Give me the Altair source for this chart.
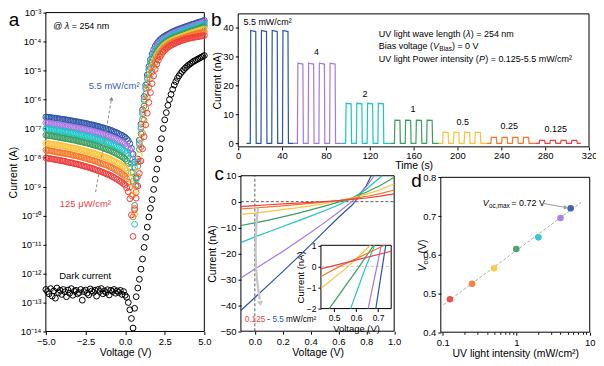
import altair as alt
import pandas as pd

W, H = 590, 356
FONT = "Liberation Sans"

SERIES = ["Dark", "5.5", "4", "2", "1", "0.5", "0.25", "0.125"]
COLORS = ["#000000", "#2b55a6", "#a577e3", "#1cc4c4", "#3a9e5f", "#fbc33a", "#f5772a", "#ee3e3e"]
CS = alt.Scale(domain=SERIES, range=COLORS)

# ---------------- panel a : log10 |I| (A) vs V ----------------
V_A = [-5.0, -4.9, -4.8, -4.7, -4.6, -4.5, -4.4, -4.3, -4.2, -4.1,
       -4.0, -3.9, -3.8, -3.7, -3.6, -3.5, -3.4, -3.3, -3.2, -3.1,
       -3.0, -2.9, -2.8, -2.7, -2.6, -2.5, -2.4, -2.3, -2.2, -2.1,
       -2.0, -1.9, -1.8, -1.7, -1.6, -1.5, -1.4, -1.3, -1.2, -1.1,
       -1.0, -0.9, -0.8, -0.7, -0.6, -0.5, -0.4, -0.3, -0.2, -0.1,
       0.0,
       0.1, 0.2, 0.3, 0.4, 0.5, 0.6, 0.7, 0.8, 0.9, 1.0,
       1.1, 1.2, 1.3, 1.4, 1.5, 1.6, 1.7, 1.8, 1.9, 2.0,
       2.1, 2.2, 2.3, 2.4, 2.5, 2.6, 2.7, 2.8, 2.9, 3.0,
       3.1, 3.2, 3.3, 3.4, 3.5, 3.6, 3.7, 3.8, 3.9, 4.0,
       4.1, 4.2, 4.3, 4.4, 4.5, 4.6, 4.7, 4.8, 4.9, 5.0]

LOG_DARK = [-12.55, -12.62, -12.70, -12.52, -12.78, -12.60, -12.85, -12.50, -12.66, -12.58,
            -12.72, -12.55, -12.63, -12.80, -12.57, -12.68, -12.52, -12.75, -12.61, -12.58,
            -12.70, -12.66, -12.55, -12.92, -12.62, -12.57, -12.68, -12.74, -12.53, -12.60,
            -12.65, -12.58, -12.78, -12.55, -12.62, -12.52, -12.70, -12.60, -12.66, -12.56,
            -12.74, -12.58, -12.62, -12.55, -12.68, -12.60, -12.65, -12.58, -12.72, -12.62,
            -12.75,
            -12.82, -13.00, -13.25, -13.55, -13.88, -13.20, -12.80, -12.50, -12.20, -11.85,
            -11.50, -11.10, -10.75, -10.40, -10.05, -9.75, -9.45, -9.10, -8.75, -8.40,
            -8.05, -7.70, -7.35, -7.00, -6.70, -6.45, -6.20, -6.00, -5.82, -5.65,
            -5.50, -5.38, -5.27, -5.18, -5.10, -5.03, -4.97, -4.91, -4.86, -4.81,
            -4.77, -4.73, -4.69, -4.66, -4.63, -4.60, -4.57, -4.54, -4.51, -4.48]

LOG_55 = [-6.60, -6.61, -6.61, -6.62, -6.63, -6.64, -6.64, -6.65, -6.66, -6.67,
          -6.68, -6.68, -6.69, -6.70, -6.71, -6.72, -6.73, -6.74, -6.75, -6.76,
          -6.77, -6.78, -6.79, -6.80, -6.81, -6.82, -6.83, -6.85, -6.86, -6.87,
          -6.88, -6.90, -6.91, -6.92, -6.94, -6.96, -6.97, -6.99, -7.01, -7.02,
          -7.04, -7.06, -7.08, -7.11, -7.13, -7.15, -7.18, -7.21, -7.23, -7.27,
          -7.30,
          -7.35, -7.42, -7.52, -7.68, -7.88, -8.15, -8.70, -8.05, -7.40, -6.85,
          -6.35, -5.90, -5.50, -5.15, -4.86, -4.62, -4.43, -4.28, -4.16, -4.07,
          -4.00, -3.94, -3.89, -3.85, -3.81, -3.78, -3.75, -3.72, -3.69, -3.66,
          -3.64, -3.61, -3.59, -3.57, -3.55, -3.53, -3.51, -3.49, -3.47, -3.45,
          -3.43, -3.41, -3.40, -3.38, -3.36, -3.34, -3.33, -3.31, -3.29, -3.27]

LOG_4 = [-6.80, -6.81, -6.81, -6.82, -6.83, -6.84, -6.85, -6.85, -6.86, -6.87,
         -6.88, -6.89, -6.90, -6.91, -6.92, -6.93, -6.94, -6.95, -6.96, -6.97,
         -6.98, -6.99, -7.00, -7.01, -7.02, -7.03, -7.05, -7.06, -7.07, -7.08,
         -7.10, -7.11, -7.13, -7.14, -7.16, -7.18, -7.19, -7.21, -7.23, -7.25,
         -7.27, -7.29, -7.31, -7.33, -7.36, -7.38, -7.41, -7.44, -7.47, -7.50,
         -7.54,
         -7.59, -7.65, -7.74, -7.87, -8.06, -8.35, -9.00, -8.15, -7.50, -6.94,
         -6.44, -5.99, -5.59, -5.24, -4.95, -4.71, -4.52, -4.37, -4.25, -4.15,
         -4.08, -4.02, -3.97, -3.93, -3.89, -3.86, -3.83, -3.79, -3.76, -3.73,
         -3.71, -3.68, -3.66, -3.64, -3.62, -3.60, -3.58, -3.56, -3.54, -3.52,
         -3.50, -3.48, -3.46, -3.44, -3.42, -3.40, -3.39, -3.37, -3.35, -3.33]

LOG_2 = [-7.01, -7.02, -7.03, -7.03, -7.04, -7.05, -7.06, -7.07, -7.08, -7.08,
         -7.09, -7.10, -7.11, -7.12, -7.13, -7.14, -7.15, -7.16, -7.17, -7.18,
         -7.20, -7.21, -7.22, -7.23, -7.24, -7.26, -7.27, -7.28, -7.30, -7.31,
         -7.33, -7.34, -7.36, -7.37, -7.39, -7.41, -7.42, -7.44, -7.46, -7.48,
         -7.50, -7.53, -7.55, -7.57, -7.60, -7.63, -7.65, -7.68, -7.72, -7.75,
         -7.79,
         -7.85, -7.93, -8.04, -8.20, -8.50, -10.30, -8.75, -8.15, -7.55, -7.00,
         -6.50, -6.04, -5.63, -5.28, -4.98, -4.74, -4.57, -4.45, -4.35, -4.25,
         -4.18, -4.11, -4.06, -4.01, -3.97, -3.93, -3.89, -3.86, -3.83, -3.80,
         -3.78, -3.75, -3.73, -3.71, -3.69, -3.67, -3.65, -3.63, -3.61, -3.59,
         -3.57, -3.55, -3.53, -3.51, -3.49, -3.47, -3.45, -3.44, -3.42, -3.40]

LOG_1 = [-7.23, -7.24, -7.25, -7.25, -7.26, -7.27, -7.28, -7.29, -7.30, -7.31,
         -7.32, -7.33, -7.34, -7.35, -7.36, -7.37, -7.38, -7.39, -7.40, -7.41,
         -7.43, -7.44, -7.45, -7.46, -7.48, -7.49, -7.50, -7.52, -7.53, -7.55,
         -7.56, -7.58, -7.59, -7.61, -7.63, -7.65, -7.67, -7.69, -7.71, -7.73,
         -7.75, -7.77, -7.80, -7.82, -7.85, -7.88, -7.91, -7.94, -7.97, -8.01,
         -8.05,
         -8.12, -8.21, -8.34, -8.52, -8.82, -9.65, -8.95, -8.30, -7.72, -7.18,
         -6.68, -6.22, -5.81, -5.45, -5.14, -4.90, -4.72, -4.58, -4.46, -4.35,
         -4.27, -4.20, -4.14, -4.09, -4.04, -4.00, -3.96, -3.93, -3.90, -3.88,
         -3.85, -3.83, -3.81, -3.79, -3.77, -3.75, -3.73, -3.71, -3.69, -3.67,
         -3.65, -3.63, -3.61, -3.59, -3.58, -3.56, -3.54, -3.52, -3.50, -3.48]

LOG_05 = [-7.50, -7.51, -7.52, -7.53, -7.54, -7.54, -7.55, -7.56, -7.57, -7.58,
          -7.59, -7.60, -7.61, -7.62, -7.64, -7.65, -7.66, -7.67, -7.68, -7.69,
          -7.70, -7.72, -7.73, -7.74, -7.76, -7.77, -7.79, -7.80, -7.82, -7.83,
          -7.85, -7.86, -7.88, -7.90, -7.92, -7.94, -7.96, -7.98, -8.00, -8.02,
          -8.04, -8.07, -8.09, -8.12, -8.15, -8.18, -8.21, -8.24, -8.28, -8.32,
          -8.36,
          -8.44, -8.54, -8.68, -8.90, -9.30, -9.95, -9.10, -8.48, -7.92, -7.38,
          -6.88, -6.42, -6.00, -5.63, -5.31, -5.05, -4.85, -4.70, -4.58, -4.47,
          -4.38, -4.30, -4.23, -4.17, -4.12, -4.08, -4.04, -4.01, -3.98, -3.95,
          -3.93, -3.90, -3.88, -3.86, -3.84, -3.82, -3.80, -3.78, -3.76, -3.74,
          -3.72, -3.70, -3.69, -3.67, -3.65, -3.63, -3.62, -3.60, -3.59, -3.57]

LOG_025 = [-7.74, -7.75, -7.76, -7.77, -7.78, -7.79, -7.80, -7.81, -7.82, -7.83,
           -7.84, -7.85, -7.86, -7.87, -7.88, -7.89, -7.90, -7.92, -7.93, -7.94,
           -7.95, -7.97, -7.98, -7.99, -8.01, -8.02, -8.04, -8.06, -8.07, -8.09,
           -8.10, -8.12, -8.14, -8.16, -8.18, -8.20, -8.22, -8.24, -8.26, -8.28,
           -8.31, -8.33, -8.36, -8.39, -8.42, -8.45, -8.48, -8.52, -8.56, -8.60,
           -8.64,
           -8.73, -8.85, -9.02, -9.32, -10.05, -9.75, -9.20, -8.66, -8.14, -7.64,
           -7.16, -6.71, -6.29, -5.91, -5.57, -5.28, -5.05, -4.87, -4.72, -4.60,
           -4.50, -4.41, -4.33, -4.27, -4.21, -4.17, -4.12, -4.08, -4.05, -4.02,
           -3.99, -3.97, -3.95, -3.93, -3.91, -3.89, -3.87, -3.85, -3.83, -3.81,
           -3.80, -3.78, -3.77, -3.75, -3.74, -3.72, -3.71, -3.70, -3.68, -3.67]

LOG_0125 = [-8.01, -8.02, -8.03, -8.04, -8.05, -8.06, -8.07, -8.08, -8.09, -8.10,
            -8.11, -8.12, -8.13, -8.15, -8.16, -8.17, -8.18, -8.19, -8.21, -8.22,
            -8.23, -8.25, -8.26, -8.28, -8.29, -8.31, -8.32, -8.34, -8.36, -8.37,
            -8.39, -8.41, -8.43, -8.45, -8.47, -8.49, -8.51, -8.53, -8.56, -8.58,
            -8.60, -8.63, -8.66, -8.69, -8.72, -8.75, -8.79, -8.82, -8.86, -8.91,
            -8.95,
            -9.05, -9.18, -9.42, -9.98, -10.72, -9.80, -9.40, -8.98, -8.55, -8.12,
            -7.70, -7.28, -6.87, -6.47, -6.10, -5.76, -5.45, -5.18, -4.96, -4.78,
            -4.64, -4.53, -4.44, -4.36, -4.30, -4.25, -4.20, -4.16, -4.13, -4.10,
            -4.07, -4.05, -4.02, -4.00, -3.98, -3.96, -3.94, -3.92, -3.91, -3.89,
            -3.88, -3.87, -3.86, -3.85, -3.84, -3.83, -3.82, -3.81, -3.80, -3.79]

LOG_A = {"Dark": LOG_DARK, "5.5": LOG_55, "4": LOG_4, "2": LOG_2, "1": LOG_1,
         "0.5": LOG_05, "0.25": LOG_025, "0.125": LOG_0125}

# ---------------- panel b : transient photocurrent ----------------
B_T = {
    "5.5": [7.5, 11.0, 11.4, 16.0, 16.4, 20.8, 21.2, 25.8, 26.2, 30.6, 31.0, 35.6, 36.0, 40.4, 40.8, 45.4, 45.8, 50.5],
    "4": [50.5, 54.0, 54.4, 59.0, 59.4, 63.8, 64.2, 68.8, 69.2, 73.6, 74.0, 78.6, 79.0, 83.4, 83.8, 88.4, 88.8, 94.5],
    "2": [94.5, 98.0, 98.4, 103.0, 103.4, 107.8, 108.2, 112.8, 113.2, 117.6, 118.0, 122.6, 123.0, 127.4, 127.8, 132.4, 132.8, 139.0],
    "1": [139.0, 142.5, 142.9, 147.5, 147.9, 152.3, 152.7, 157.3, 157.7, 162.1, 162.5, 167.1, 167.5, 171.9, 172.3, 176.9, 177.3, 183.0],
    "0.5": [183.0, 186.5, 186.9, 191.5, 191.9, 196.3, 196.7, 201.3, 201.7, 206.1, 206.5, 211.1, 211.5, 215.9, 216.3, 220.9, 221.3, 227.0],
    "0.25": [227.0, 230.5, 230.9, 235.5, 235.9, 240.3, 240.7, 245.3, 245.7, 250.1, 250.5, 255.1, 255.5, 259.9, 260.3, 264.9, 265.3, 271.0],
    "0.125": [271.0, 274.5, 274.9, 279.5, 279.9, 284.3, 284.7, 289.3, 289.7, 294.1, 294.5, 299.1, 299.5, 303.9, 304.3, 308.9, 309.3, 312.5],
}
B_I = {
    "5.5": [0, 0, 38.9, 38.5, 0, 0, 38.9, 38.5, 0, 0, 38.9, 38.5, 0, 0, 38.9, 38.5, 0, 0],
    "4": [0, 0, 27.6, 27.3, 0, 0, 27.6, 27.3, 0, 0, 27.6, 27.3, 0, 0, 27.6, 27.3, 0, 0],
    "2": [0, 0, 13.8, 13.6, 0, 0, 13.8, 13.6, 0, 0, 13.8, 13.6, 0, 0, 13.8, 13.6, 0, 0],
    "1": [0, 0, 8.0, 7.9, 0, 0, 8.0, 7.9, 0, 0, 8.0, 7.9, 0, 0, 8.0, 7.9, 0, 0],
    "0.5": [0, 0, 3.85, 3.75, 0, 0, 3.85, 3.75, 0, 0, 3.85, 3.75, 0, 0, 3.85, 3.75, 0, 0],
    "0.25": [0, 0, 2.1, 2.05, 0, 0, 2.1, 2.05, 0, 0, 2.1, 2.05, 0, 0, 2.1, 2.05, 0, 0],
    "0.125": [0, 0, 1.05, 1.0, 0, 0, 1.05, 1.0, 0, 0, 1.05, 1.0, 0, 0, 1.05, 1.0, 0, 0],
}
B_LABELS = ["4", "2", "1", "0.5", "0.25", "0.125"]
B_LABEL_T = [71.5, 115.7, 159.4, 204.8, 247.3, 289.7]
B_LABEL_I = [31.4, 17.1, 11.8, 7.4, 6.0, 4.9]

# ---------------- panel c : linear I-V near zero bias ----------------
C_V = {
    "0.125": [-0.1, 0.0, 0.1, 0.2, 0.3, 0.4, 0.5, 0.6, 0.7, 0.8, 0.9, 1.0],
    "0.25": [-0.1, 0.0, 0.1, 0.2, 0.3, 0.4, 0.5, 0.6, 0.7, 0.8, 0.9, 1.0],
    "0.5": [-0.1, 0.0, 0.1, 0.2, 0.3, 0.4, 0.5, 0.6, 0.7, 0.8, 0.9, 1.0],
    "1": [-0.1, 0.0, 0.1, 0.2, 0.3, 0.4, 0.5, 0.6, 0.7, 0.8, 0.9, 1.0],
    "2": [-0.1, 0.0, 0.1, 0.2, 0.3, 0.4, 0.5, 0.6, 0.7, 0.8, 0.9, 0.912],
    "4": [-0.1, 0.0, 0.1, 0.2, 0.3, 0.4, 0.5, 0.6, 0.7, 0.8, 0.857],
    "5.5": [-0.1, 0.0, 0.1, 0.2, 0.3, 0.4, 0.5, 0.6, 0.7, 0.75, 0.8, 0.835],
}
C_I = {
    "0.125": [-1.9, -1.55, -1.2, -0.88, -0.57, -0.26, 0.05, 0.4, 0.85, 1.4, 2.1, 3.0],
    "0.25": [-2.8, -2.45, -2.0, -1.6, -1.15, -0.68, -0.15, 0.45, 1.15, 2.0, 3.1, 4.5],
    "0.5": [-4.9, -4.4, -3.75, -3.1, -2.4, -1.65, -0.8, 0.35, 1.5, 2.9, 4.6, 6.8],
    "1": [-9.2, -8.2, -7.1, -5.9, -4.6, -3.2, -1.7, -0.2, 1.5, 3.6, 6.2, 9.4],
    "2": [-15.8, -13.6, -11.6, -9.6, -7.6, -5.6, -3.5, -1.3, 1.4, 4.8, 9.4, 10.0],
    "4": [-29.5, -26.0, -22.6, -19.2, -15.6, -11.9, -8.1, -4.1, 0.2, 5.8, 10.0],
    "5.5": [-42.0, -37.0, -32.0, -27.0, -21.9, -16.7, -11.4, -6.1, -1.2, 2.2, 6.2, 10.0],
}
# inset (zoom near Voc)
IN_V = {
    "0.125": [0.44, 0.76],
    "0.25": [0.44, 0.525, 0.73],
    "0.5": [0.44, 0.565, 0.665],
    "1": [0.478, 0.615, 0.68],
    "2": [0.575, 0.645, 0.685],
    "4": [0.655, 0.695, 0.715],
    "5.5": [0.69, 0.72, 0.735],
}
IN_I = {
    "0.125": [-0.12, 0.72],
    "0.25": [-0.48, 0.0, 1.0],
    "0.5": [-1.05, 0.0, 1.0],
    "1": [-2.0, 0.0, 1.0],
    "2": [-2.0, 0.0, 1.0],
    "4": [-2.0, 0.0, 1.0],
    "5.5": [-2.0, 0.0, 1.0],
}
ARROW_C_V = [0.022, 0.008, 0.004, 0.012, 0.036]
ARROW_C_I = [-2.5, -10.0, -20.0, -30.0, -37.8]

# ---------------- panel d : Voc vs intensity ----------------
D_P = [0.125, 0.25, 0.5, 1, 2, 4, 5.5]
D_VOC = [0.485, 0.525, 0.565, 0.615, 0.645, 0.695, 0.72]
D_NAMES = ["0.125", "0.25", "0.5", "1", "2", "4", "5.5"]
FIT_P = [0.102, 7.6]
FIT_V = [0.471, 0.735]

# ---------------- scales (pixel ranges inside one canvas) ----------------
def lin(d, r):
    return alt.Scale(type="linear", domain=d, range=r, nice=False, zero=False)


def lg(d, r):
    return alt.Scale(type="log", domain=d, range=r, nice=False)


XA = lin([-5, 5], [38, 197]);            YA = lg([1e-14, 1e-3], [324, 4])
XB = lin([0, 320], [231, 583]);          YB = lin([-1.2, 44.6], [138.7, 5.3])
XC = lin([-0.1, 1.0], [233.7, 387.5]);   YC = lin([-50, 10], [323.7, 167.7])
XI = lin([0.44, 0.76], [314, 384.5]);    YI = lin([-2, 1], [301, 237.5])
XD = lg([0.094, 10], [434.3, 583.7]);    YD = lin([0.4, 0.8], [324.7, 169.3])


def ax(orient, offset, values, title, fmt=None, **kw):
    d = dict(orient=orient, offset=offset, values=values, title=title)
    if fmt:
        d["format"] = fmt
    d.update(kw)
    return alt.Axis(**d)


def label(xs, ys, x, y, text, **kw):
    df = pd.DataFrame({"x": [x], "y": [y], "t": [text]})
    props = dict(font=FONT, fontSize=9, align="left", baseline="middle", color="black")
    props.update(kw)
    return alt.Chart(df).mark_text(**props).encode(
        x=alt.X("x:Q", scale=xs, axis=None),
        y=alt.Y("y:Q", scale=ys, axis=None),
        text="t:N")


def frame(xs, ys, xd, yd, fill=None):
    df = pd.DataFrame({"x0": [xd[0]], "x1": [xd[1]], "y0": [yd[0]], "y1": [yd[1]]})
    props = dict(stroke="black", strokeWidth=1)
    if fill:
        props["fill"] = fill
    else:
        props["fillOpacity"] = 0
    return alt.Chart(df).mark_rect(**props).encode(
        x=alt.X("x0:Q", scale=xs, axis=None), x2="x1:Q",
        y=alt.Y("y0:Q", scale=ys, axis=None), y2="y1:Q")


def segment(xs, ys, xv, yv, **kw):
    df = pd.DataFrame({"x": xv, "y": yv, "o": list(range(len(xv)))})
    return alt.Chart(df).mark_line(**kw).encode(
        x=alt.X("x:Q", scale=xs, axis=None),
        y=alt.Y("y:Q", scale=ys, axis=None),
        order="o:Q")


def head(xs, ys, x, y, shape, angle, color, size=24):
    df = pd.DataFrame({"x": [x], "y": [y]})
    return alt.Chart(df).mark_point(shape=shape, angle=angle, filled=True, size=size,
                                    color=color, opacity=1).encode(
        x=alt.X("x:Q", scale=xs, axis=None), y=alt.Y("y:Q", scale=ys, axis=None))


layers = []

# ======== panel a ========
rows = []
for s in SERIES:
    for v, l in zip(V_A, LOG_A[s]):
        rows.append({"V": v, "I": 10 ** l, "s": s})
dfa = pd.DataFrame(rows)
sup = "['⁻¹⁴','⁻¹³','⁻¹²','⁻¹¹','⁻¹⁰','⁻⁹','⁻⁸','⁻⁷','⁻⁶','⁻⁵','⁻⁴','⁻³']"
layers.append(frame(XA, YA, [-5, 5], [1e-14, 1e-3]))
layers.append(alt.Chart(dfa).mark_point(filled=False, size=34, strokeWidth=1, opacity=1).encode(
    x=alt.X("V:Q", scale=XA, axis=ax("bottom", 324 - H, [-5, -2.5, 0, 2.5, 5], "Voltage (V)", ".1f")),
    y=alt.Y("I:Q", scale=YA, axis=ax("left", -38,
            [1e-14, 1e-13, 1e-12, 1e-11, 1e-10, 1e-9, 1e-8, 1e-7, 1e-6, 1e-5, 1e-4, 1e-3],
            "Current (A)", labelExpr="'10' + " + sup + "[round(log(datum.value)/LN10) + 14]")),
    color=alt.Color("s:N", scale=CS, legend=None)))
layers.append(label(XA, YA, -4.54, 3.55e-4, "@"))
layers.append(label(XA, YA, -4.54, 3.55e-4, "λ", dx=11.6, fontStyle="italic"))
layers.append(label(XA, YA, -4.54, 3.55e-4, "= 254 nm", dx=18.6))
layers.append(label(XA, YA, -2.3, 2.95e-6, "5.5 mW/cm²", color="#3b5fae", fontSize=9.5))
layers.append(segment(XA, YA, [-1.86, -0.88], [10 ** -9.19, 10 ** -6.05],
                      color="#8a8a8a", strokeWidth=1, strokeDash=[3, 2]))
layers.append(head(XA, YA, -0.86, 10 ** -5.97, "triangle-up", 10, "#8a8a8a", 22))
layers.append(label(XA, YA, -4.12, 2.5e-10, "125 μW/cm²", color="#ee3e3e", fontSize=9.5))
layers.append(label(XA, YA, -4.16, 7.9e-13, "Dark current", fontSize=9.5))
layers.append(label(XA, YA, -7.01, 3.57e-4, "a", fontSize=19, align="center", baseline="alphabetic"))

# ======== panel b ========
rows = []
for s in SERIES[1:]:
    for i, (t, c) in enumerate(zip(B_T[s], B_I[s])):
        rows.append({"t": t, "I": c, "s": s, "o": i})
dfb = pd.DataFrame(rows)
layers.append(frame(XB, YB, [0, 320], [-1.2, 44.6]))
layers.append(alt.Chart(dfb).mark_line(strokeWidth=1.2).encode(
    x=alt.X("t:Q", scale=XB, axis=ax("bottom", 138.7 - H, [0, 40, 80, 120, 160, 200, 240, 280, 320], "Time (s)",
                                     labelPadding=1, titlePadding=0)),
    y=alt.Y("I:Q", scale=YB, axis=ax("left", -231, [0, 10, 20, 30, 40], "Current (nA)", titlePadding=0)),
    color=alt.Color("s:N", scale=CS, legend=None),
    detail="s:N", order="o:Q"))
layers.append(label(XB, YB, 4.8, 41.9, "5.5 mW/cm²"))
for lt, tt, ii in zip(B_LABELS, B_LABEL_T, B_LABEL_I):
    layers.append(label(XB, YB, tt, ii, lt, align="center"))
layers.append(label(XB, YB, 128.2, 37.7, "UV light wave length ("))
layers.append(label(XB, YB, 128.2, 37.7, "λ", dx=87.5, fontStyle="italic"))
layers.append(label(XB, YB, 128.2, 37.7, ") = 254 nm", dx=92.3))
layers.append(label(XB, YB, 128.2, 33.4, "Bias voltage ("))
layers.append(label(XB, YB, 128.2, 33.4, "V", dx=54.5, fontStyle="italic"))
layers.append(label(XB, YB, 128.2, 33.4, "Bias", dx=60.8, dy=2.5, fontSize=6.5))
layers.append(label(XB, YB, 128.2, 33.4, ") = 0 V", dx=73.4))
layers.append(label(XB, YB, 128.2, 29.1, "UV light Power intensity ("))
layers.append(label(XB, YB, 128.2, 29.1, "P", dx=100.5, fontStyle="italic"))
layers.append(label(XB, YB, 128.2, 29.1, ") = 0.125-5.5 mW/cm²", dx=106.8))
layers.append(label(XB, YB, -20.0, 40.52, "b", fontSize=19, align="center", baseline="alphabetic"))

# ======== panel c ========
rows = []
for s in SERIES[1:]:
    for i, (v, c) in enumerate(zip(C_V[s], C_I[s])):
        rows.append({"V": v, "I": c, "s": s, "o": i})
dfc = pd.DataFrame(rows)
layers.append(frame(XC, YC, [-0.1, 1.0], [-50, 10]))
layers.append(segment(XC, YC, [-0.1, 1.0], [0, 0], color="#333333", strokeWidth=0.8, strokeDash=[3, 2]))
layers.append(segment(XC, YC, [0, 0], [-50, 10], color="#333333", strokeWidth=0.8, strokeDash=[3, 2]))
layers.append(alt.Chart(dfc).mark_line(strokeWidth=1.2).encode(
    x=alt.X("V:Q", scale=XC, axis=ax("bottom", 323.7 - H, [0, 0.2, 0.4, 0.6, 0.8, 1.0], "Voltage (V)", ".1f")),
    y=alt.Y("I:Q", scale=YC, axis=ax("left", -233.7, [-50, -40, -30, -20, -10, 0, 10], "Current (nA)")),
    color=alt.Color("s:N", scale=CS, legend=None),
    detail="s:N", order="o:Q"))
layers.append(segment(XC, YC, ARROW_C_V, ARROW_C_I, color="#c6c6c6", strokeWidth=2.2, interpolate="basis"))
layers.append(head(XC, YC, 0.04, -39.3, "triangle-down", 351, "#c6c6c6", 34))
layers.append(label(XC, YC, -0.072, -45.6, "0.125", color="#ee3e3e", fontSize=8.2))
layers.append(label(XC, YC, -0.072, -45.6, "-", dx=22.5, fontSize=8.2))
layers.append(label(XC, YC, -0.072, -45.6, "5.5", dx=27.8, color="#2b55a6", fontSize=8.2))
layers.append(label(XC, YC, -0.072, -45.6, "mW/cm²", dx=41.3, fontSize=8.2))
layers.append(label(XC, YC, -0.255, 8.35, "c", fontSize=19, align="center", baseline="alphabetic"))

# inset
rows = []
for s in SERIES[1:]:
    for i, (v, c) in enumerate(zip(IN_V[s], IN_I[s])):
        rows.append({"V": v, "I": c, "s": s, "o": i})
dfi = pd.DataFrame(rows)
layers.append(frame(XI, YI, [0.44, 0.76], [-2, 1], fill="white"))
layers.append(segment(XI, YI, [0.44, 0.76], [0, 0], color="#b5b5b5", strokeWidth=0.8, strokeDash=[3, 2]))
layers.append(alt.Chart(dfi).mark_line(strokeWidth=1.2).encode(
    x=alt.X("V:Q", scale=XI, axis=ax("bottom", 301 - H, [0.5, 0.6, 0.7], "Voltage (V)", ".1f",
                                     labelFontSize=8.5, titleFontSize=9.5, titlePadding=1)),
    y=alt.Y("I:Q", scale=YI, axis=ax("left", -314, [-2, -1, 0, 1], "Current (nA)",
                                     labelFontSize=8.5, titleFontSize=9.5, titlePadding=1)),
    color=alt.Color("s:N", scale=CS, legend=None),
    detail="s:N", order="o:Q"))

# ======== panel d ========
dfd = pd.DataFrame({"P": D_P, "Voc": D_VOC, "s": D_NAMES})
layers.append(frame(XD, YD, [0.094, 10], [0.4, 0.8]))
layers.append(alt.Chart(pd.DataFrame({"x": [0.2, 0.3, 0.4, 0.5, 0.6, 0.7, 0.8, 0.9, 2, 3, 4, 5, 6, 7, 8, 9],
                                      "y": [0.5] * 16})).mark_point(opacity=0).encode(
    x=alt.X("x:Q", scale=XD, axis=alt.Axis(orient="bottom", offset=324.7 - H,
            values=[0.2, 0.3, 0.4, 0.5, 0.6, 0.7, 0.8, 0.9, 2, 3, 4, 5, 6, 7, 8, 9],
            labels=False, tickSize=2, title=None)),
    y=alt.Y("y:Q", scale=YD, axis=None)))
layers.append(segment(XD, YD, FIT_P, FIT_V, color="#a8a8a8", strokeWidth=1, strokeDash=[3, 2]))
layers.append(alt.Chart(dfd).mark_circle(size=44, opacity=0.9).encode(
    x=alt.X("P:Q", scale=XD, axis=ax("bottom", 324.7 - H, [0.1, 1, 10], "UV light intensity (mW/cm²)", "~g")),
    y=alt.Y("Voc:Q", scale=YD, axis=ax("left", -434.3, [0.4, 0.5, 0.6, 0.7, 0.8], None, ".1f")),
    color=alt.Color("s:N", scale=CS, legend=None)))
layers.append(label(XD, YD, 0.35, 0.733, "V", fontStyle="italic"))
layers.append(label(XD, YD, 0.35, 0.733, "oc,max", dx=6.2, dy=2.5, fontSize=6.5))
layers.append(label(XD, YD, 0.35, 0.733, "= 0.72 V", dx=28.7))
layers.append(segment(XD, YD, [2.25, 4.7], [0.733, 0.7222], color="#9a9a9a", strokeWidth=1))
layers.append(head(XD, YD, 4.75, 0.722, "triangle-right", 10, "#9a9a9a", 22))
layers.append(label(XD, YD, 0.0545, 0.557, "V", fontStyle="italic", fontSize=10.5, angle=270))
layers.append(label(XD, YD, 0.0545, 0.557, "oc", dx=7.0, dy=3, fontSize=7.5, angle=270))
layers.append(label(XD, YD, 0.0545, 0.557, "(V)", dx=18.0, fontSize=10.5, angle=270))
layers.append(label(XD, YD, 0.0437, 0.775, "d", fontSize=19, align="center", baseline="alphabetic"))

chart = alt.layer(*layers).resolve_scale(
    x="independent", y="independent", color="shared"
).properties(
    width=W, height=H, padding=0, autosize=alt.AutoSizeParams(type="none")
).configure_view(stroke="transparent").configure_axis(
    grid=False, domain=False, tickColor="black", tickSize=3, tickWidth=1,
    labelColor="black", titleColor="black", labelFont=FONT, titleFont=FONT,
    labelFontSize=9.5, titleFontSize=10.5, titleFontWeight="normal",
    labelFlush=False, labelOverlap=False, labelPadding=2, titlePadding=2
)

chart.save("out.html", embed_options={"renderer": "svg", "actions": False})
